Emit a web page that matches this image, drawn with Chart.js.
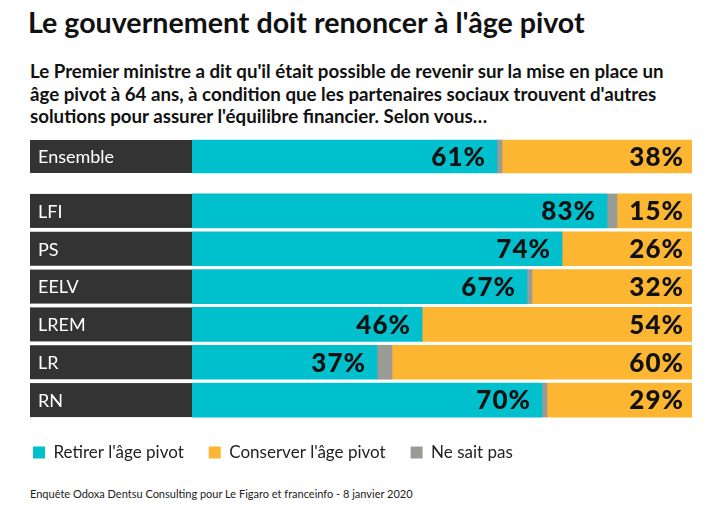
<!DOCTYPE html>
<html><head><meta charset="utf-8">
<script src="https://cdn.jsdelivr.net/npm/chart.js@4/dist/chart.umd.min.js"></script>
<style>
body{margin:0;width:720px;height:525px;background:#fff;position:relative;font-family:Lato,sans-serif;overflow:hidden}
#title{position:absolute;left:28px;top:5px;font-size:28.6px;font-weight:700;color:#111;white-space:nowrap}
#sub{position:absolute;left:30px;top:60px;font-size:18.7px;font-weight:700;line-height:22.5px;color:#111;white-space:nowrap}
#w1{position:absolute;left:0;top:130px;width:720px;height:53px}
#w2{position:absolute;left:0;top:190px;width:720px;height:290px}
#foot{position:absolute;left:30px;top:487px;font-size:11px;color:#222;white-space:nowrap}
</style></head>
<body>
<div id="title">Le gouvernement doit renoncer à l'âge pivot</div>
<div id="sub">Le Premier ministre a dit qu'il était possible de revenir sur la mise en place un<br>âge pivot à 64 ans, à condition que les partenaires sociaux trouvent d'autres<br>solutions pour assurer l'équilibre financier. Selon vous…</div>
<div id="w1"><canvas id="c1"></canvas></div>
<div id="w2"><canvas id="c2"></canvas></div>
<div id="foot">Enquête Odoxa Dentsu Consulting pour Le Figaro et franceinfo - 8 janvier 2020</div>
<script>
// ---- data ----
const seriesNames = ["Retirer l'âge pivot", "Ne sait pas", "Conserver l'âge pivot"];
const totalLabels = ['Ensemble'];
const totalRetirer = [61];
const totalNsp = [1];
const totalConserver = [38];
const partis = ['LFI', 'PS', 'EELV', 'LREM', 'LR', 'RN'];
const partisRetirer = [83, 74, 67, 46, 37, 70];
const partisNsp = [2, 0, 1, 0, 3, 1];
const partisConserver = [15, 26, 32, 54, 60, 29];

// ---- styles ----
const TEAL = '#00C0CE', ORANGE = '#FDB631', GRAY = '#9b9b95', DARK = '#333333';
const legendRank = [0, 2, 1];

const rowPlugin = {
  id: 'rows',
  beforeDatasetsDraw(chart) {
    const ctx = chart.ctx;
    const meta = chart.getDatasetMeta(0);
    ctx.save();
    meta.data.forEach((bar, i) => {
      const top = bar.y - bar.height / 2;
      ctx.fillStyle = DARK;
      ctx.fillRect(30, top, chart.chartArea.left - 30, bar.height);
      ctx.fillStyle = '#ffffff';
      ctx.font = '18px Lato';
      ctx.textBaseline = 'middle';
      ctx.textAlign = 'left';
      ctx.fillText(chart.data.labels[i], 38, bar.y + 1);
    });
    ctx.restore();
  },
  afterDatasetsDraw(chart) {
    const ctx = chart.ctx;
    ctx.save();
    ctx.font = '900 26px Lato';
    if ('letterSpacing' in ctx) ctx.letterSpacing = '1px';
    ctx.fillStyle = '#111';
    ctx.textAlign = 'right';
    ctx.textBaseline = 'middle';
    [[0, 11], [2, 8]].forEach(([di, off]) => {
      const ds = chart.data.datasets[di];
      chart.getDatasetMeta(di).data.forEach((bar, i) => {
        const v = ds.data[i];
        if (!v) return;
        ctx.fillText(v + '%', bar.x - off, bar.y + 1);
      });
    });
    ctx.restore();
  }
};

function makeChart(id, labels, r, n, c, thickness, showLegend, padding) {
  return new Chart(document.getElementById(id), {
    type: 'bar',
    data: {
      labels: labels,
      datasets: [
        { label: seriesNames[0], data: r, backgroundColor: TEAL },
        { label: seriesNames[1], data: n, backgroundColor: GRAY },
        { label: seriesNames[2], data: c, backgroundColor: ORANGE }
      ]
    },
    options: {
      indexAxis: 'y',
      responsive: true,
      maintainAspectRatio: false,
      animation: false,
      layout: { padding: padding },
      datasets: { bar: { barThickness: thickness, borderWidth: 0 } },
      scales: {
        x: { stacked: true, min: 0, max: 100, display: false },
        y: {
          stacked: true,
          ticks: { display: false },
          grid: { display: false },
          border: { display: false },
          afterFit(s) { s.width = 184; }
        }
      },
      plugins: {
        tooltip: { enabled: false },
        legend: {
          display: showLegend,
          position: 'bottom',
          align: 'start',
          labels: {
            boxWidth: 12,
            boxHeight: 12,
            padding: 25,
            color: '#222',
            font: { family: 'Lato', size: 17 },
            sort: (a, b) => legendRank[a.datasetIndex] - legendRank[b.datasetIndex]
          }
        }
      }
    },
    plugins: [rowPlugin]
  });
}

makeChart('c1', totalLabels, totalRetirer, totalNsp, totalConserver, 33, false, { left: 8, right: 28, top: 0, bottom: 0 });
makeChart('c2', partis, partisRetirer, partisNsp, partisConserver, 34, true, { left: 8, right: 28, top: 2, bottom: 9 });
</script>
</body></html>
